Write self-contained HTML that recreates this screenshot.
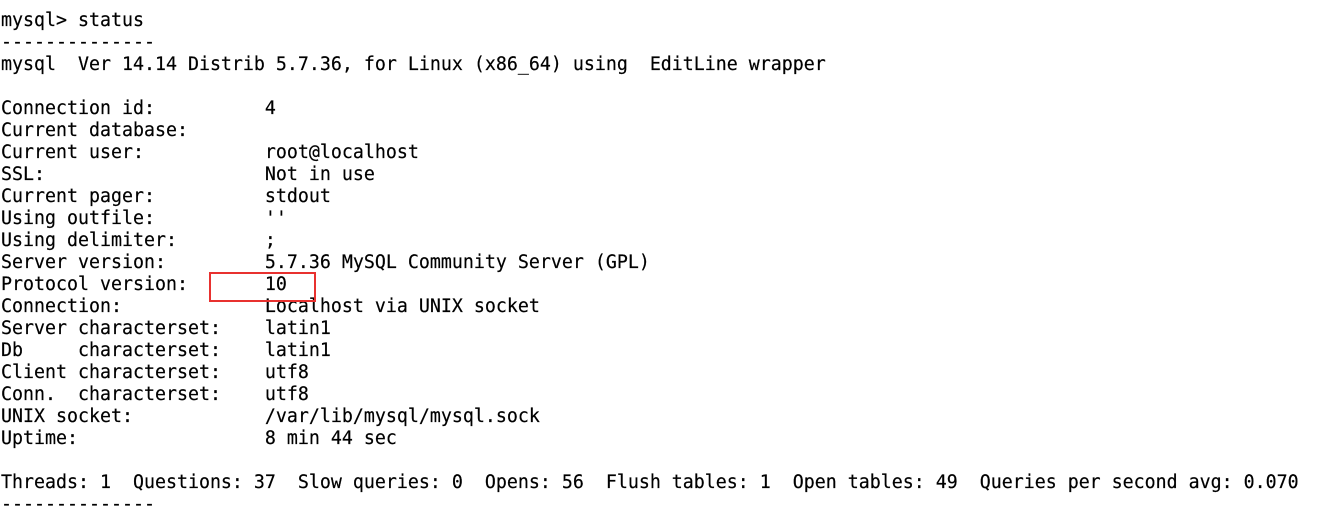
<!DOCTYPE html>
<html><head><meta charset="utf-8"><style>
html,body{margin:0;padding:0;background:#fff;width:1329px;height:525px;overflow:hidden;}
pre{position:absolute;left:1px;top:10px;margin:0;font-family:"DejaVu Sans Mono",monospace;font-size:18.27px;line-height:22px;color:#000;-webkit-text-stroke:0.2px #000;}
.box{position:absolute;left:209px;top:272px;width:103px;height:26px;border:2px solid #e8312f;}
</style></head><body>
<pre>mysql&gt; status
--------------
mysql  Ver 14.14 Distrib 5.7.36, for Linux (x86_64) using  EditLine wrapper

Connection id:          4
Current database:
Current user:           root@localhost
SSL:                    Not in use
Current pager:          stdout
Using outfile:          ''
Using delimiter:        ;
Server version:         5.7.36 MySQL Community Server (GPL)
Protocol version:       10
Connection:             Localhost via UNIX socket
Server characterset:    latin1
Db     characterset:    latin1
Client characterset:    utf8
Conn.  characterset:    utf8
UNIX socket:            /var/lib/mysql/mysql.sock
Uptime:                 8 min 44 sec

Threads: 1  Questions: 37  Slow queries: 0  Opens: 56  Flush tables: 1  Open tables: 49  Queries per second avg: 0.070
--------------</pre>
<div class="box"></div>
</body></html>
